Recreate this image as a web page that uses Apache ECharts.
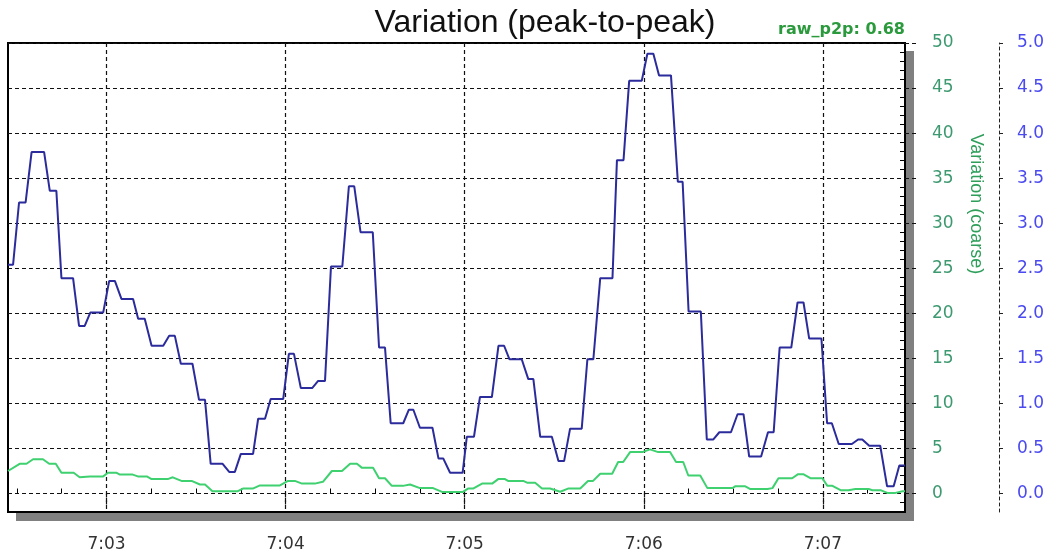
<!DOCTYPE html>
<html>
<head>
<meta charset="utf-8">
<script src="https://cdn.jsdelivr.net/npm/echarts@6/dist/echarts.min.js"></script>
<style>
  html, body { margin: 0; padding: 0; background: #fff; }
  #chart { width: 1053px; height: 559px; }
</style>
</head>
<body>
<div id="chart"></div>
<script>
// x values are seconds after 7:00
const xMajorTicks = [180, 240, 300, 360, 420];
const xMinorTicks = [150, 165, 195, 210, 225, 255, 270, 285, 315, 330, 345, 375, 390, 405, 435];
const yTicks = [0, 5, 10, 15, 20, 25, 30, 35, 40, 45, 50];
const blueTicks = [0, 0.5, 1, 1.5, 2, 2.5, 3, 3.5, 4, 4.5, 5];

// peak-to-peak, read as plateaus: start time, end time, level
const blueStart = [147.0, 150.7, 154.9, 161.0, 164.9, 170.8, 174.6, 180.9, 185.0, 190.6, 195.1, 201.0, 204.9, 211.0, 214.9, 221.1,
  225.0, 230.8, 235.0, 241.1, 245.1, 250.9, 255.2, 261.2, 265.1, 271.3, 275.2, 281.3, 285.0, 291.2, 295.1, 300.7,
  305.1, 311.3, 315.0, 321.3, 325.3, 331.4, 335.3, 341.1, 345.4, 351.0, 355.1, 361.2, 365.1, 371.4, 375.0, 381.1,
  385.3, 391.4, 395.3, 401.6, 405.5, 411.5, 415.4, 421.4, 425.3, 431.8, 435.5, 441.5, 445.6];
const blueEnd = [148.7, 152.9, 159.1, 163.2, 168.8, 172.7, 178.9, 182.8, 188.9, 192.8, 199.0, 202.9, 208.8, 213.0, 218.9, 223.0,
  229.1, 233.1, 239.2, 242.8, 248.9, 253.2, 259.0, 263.0, 269.2, 273.3, 279.4, 282.8, 289.2, 292.8, 299.3, 303.1,
  309.1, 313.2, 319.1, 323.0, 329.2, 333.3, 339.2, 343.1, 349.5, 353.2, 359.3, 363.2, 369.1, 373.0, 379.1, 383.3,
  389.2, 393.4, 399.3, 403.5, 409.4, 413.5, 419.5, 423.0, 429.7, 433.2, 439.2, 443.7, 447.5];
const blueLevel = [25.4, 32.3, 37.9, 33.6, 23.9, 18.6, 20.1, 23.6, 21.6, 19.4, 16.4, 17.5, 14.4, 10.4, 3.3, 2.4,
  4.4, 8.3, 10.5, 15.5, 11.7, 12.5, 25.2, 34.1, 29.0, 16.2, 7.8, 9.3, 7.3, 3.9, 2.3, 6.3,
  10.7, 16.4, 14.9, 12.7, 6.3, 3.6, 7.2, 14.9, 23.9, 37.0, 45.8, 48.8, 46.4, 34.6, 20.2, 6.0,
  6.8, 8.8, 4.1, 6.8, 16.2, 21.2, 17.2, 7.8, 5.5, 6.0, 5.3, 0.8, 3.1];

// coarse variation
const greenStart = [147.0, 150.9, 155.4, 160.8, 164.9, 171.0, 174.4, 180.5, 184.5, 190.5, 195.1, 202.2, 205.1, 211.3, 215.5, 225.7,
  231.4, 240.8, 245.5, 252.5, 255.5, 261.6, 265.6, 271.3, 275.6, 281.7, 285.0, 292.4, 301.1, 305.8, 311.2, 314.5,
  320.9, 325.9, 332.0, 334.6, 341.3, 345.4, 351.4, 355.4, 362.1, 364.8, 370.8, 374.9, 381.3, 390.6, 395.7, 403.1,
  405.1, 411.7, 415.8, 421.5, 425.9, 430.9, 436.6, 441.6, 446.7];
const greenEnd = [147.0, 153.2, 158.7, 163.0, 169.0, 171.0, 178.9, 183.4, 188.8, 193.5, 200.5, 202.2, 208.5, 213.0, 224.0, 229.0,
  238.1, 243.1, 249.8, 252.5, 258.9, 263.9, 269.3, 273.3, 279.3, 281.7, 289.4, 299.4, 302.8, 309.2, 313.5, 319.6,
  323.6, 328.6, 332.0, 338.7, 343.0, 349.4, 353.1, 359.5, 362.1, 368.8, 373.2, 378.9, 389.7, 394.0, 401.4, 403.1,
  409.7, 413.4, 419.8, 423.2, 428.6, 435.3, 439.3, 444.3, 447.5];
const greenLevel = [2.5, 3.3, 3.8, 3.3, 2.3, 1.8, 1.9, 2.3, 2.1, 1.9, 1.6, 1.8, 1.4, 1.0, 0.26, 0.55,
  0.9, 1.4, 1.1, 1.3, 2.5, 3.3, 2.85, 1.7, 0.85, 1.0, 0.6, 0.18, 0.55, 1.1, 1.6, 1.4,
  1.2, 0.55, 0.2, 0.55, 1.4, 2.2, 3.5, 4.6, 4.9, 4.6, 3.5, 2.0, 0.6, 0.8, 0.5, 0.6,
  1.7, 2.15, 1.7, 0.85, 0.37, 0.5, 0.37, 0.07, 0.25];

function plateaus(start, end, level) {
  const pts = [];
  for (let i = 0; i < level.length; i++) {
    pts.push([start[i], level[i]]);
    if (end[i] !== start[i]) pts.push([end[i], level[i]]);
  }
  return pts;
}

// small ticks on the frame (every unit on y)
const yMinor = [];
for (let v = -2; v < 50; v++) if (v % 5 !== 0) yMinor.push(v);

const dash = { color: '#111', width: 1.2, type: [4, 3] };
const font = 'DejaVu Sans';

const chart = echarts.init(document.getElementById('chart'));
chart.setOption({
  animation: false,
  grid: {
    left: 8, top: 43, width: 897, height: 469,
    show: true,
    backgroundColor: '#fff',
    borderColor: '#000',
    borderWidth: 2
  },
  graphic: [
    // drop shadow of the plot frame
    { type: 'rect', shape: { x: 906, y: 51, width: 8, height: 470 }, style: { fill: '#808080' } },
    { type: 'rect', shape: { x: 16, y: 513, width: 898, height: 8 }, style: { fill: '#808080' } },
    {
      type: 'text', x: 545, y: 23,
      style: { text: 'Variation (peak-to-peak)', fill: '#111', font: '32px "Liberation Sans"', textAlign: 'center', textVerticalAlign: 'middle' }
    },
    {
      type: 'text', x: 905, y: 30,
      style: { text: 'raw_p2p: 0.68', fill: '#2a9a3c', font: 'bold 16px "DejaVu Sans"', textAlign: 'right', textVerticalAlign: 'middle' }
    },
    {
      type: 'text', x: 976, y: 204, rotation: -Math.PI / 2,
      style: { text: 'Variation (coarse)', fill: '#2e9e5a', font: '18px "Liberation Sans"', textAlign: 'center', textVerticalAlign: 'middle' }
    }
  ],
  xAxis: [
    {
      type: 'value', min: 147, max: 447.5, position: 'bottom',
      axisLine: { show: false },
      axisTick: { customValues: xMajorTicks, length: 11, lineStyle: dash },
      axisLabel: {
        customValues: xMajorTicks, margin: 24, color: '#333', fontSize: 17, fontFamily: font,
        formatter: v => '7:' + String(Math.round(v / 60)).padStart(2, '0')
      },
      splitLine: { show: true, lineStyle: dash }
    },
    {
      type: 'value', min: 147, max: 447.5, position: 'bottom', offset: -4,
      axisLine: { show: false },
      axisTick: { inside: true, length: 5, customValues: xMinorTicks, lineStyle: { color: '#000', width: 1 } },
      axisLabel: { show: false },
      splitLine: { show: false }
    }
  ],
  yAxis: [
    {
      type: 'value', position: 'right', min: -2.05, max: 50,
      axisLine: { show: false },
      axisTick: { customValues: yTicks, length: 14, lineStyle: dash },
      axisLabel: { customValues: yTicks, margin: 27, color: '#3d9970', fontSize: 17, fontFamily: font },
      splitLine: { show: true, lineStyle: dash }
    },
    {
      type: 'value', position: 'right', offset: 94, min: -0.205, max: 5,
      axisLine: { show: true, lineStyle: { color: '#222', width: 1, type: [3, 3] } },
      axisTick: { customValues: blueTicks, length: 4, lineStyle: { color: '#222', width: 1 } },
      axisLabel: {
        customValues: blueTicks, margin: 18, color: '#4a4af0', fontSize: 17, fontFamily: font,
        formatter: v => v.toFixed(1)
      },
      splitLine: { show: false }
    },
    {
      type: 'value', position: 'right', min: -2.05, max: 50,
      axisLine: { show: false },
      axisTick: { inside: true, length: 5, customValues: yMinor, lineStyle: { color: '#000', width: 1 } },
      axisLabel: { show: false },
      splitLine: { show: false }
    }
  ],
  series: [
    {
      name: 'coarse', type: 'line', showSymbol: false, z: 3,
      lineStyle: { color: '#3fd070', width: 2 },
      data: plateaus(greenStart, greenEnd, greenLevel)
    },
    {
      name: 'p2p', type: 'line', showSymbol: false, z: 4,
      lineStyle: { color: '#2b2b9c', width: 2 },
      data: plateaus(blueStart, blueEnd, blueLevel)
    }
  ]
});
</script>
</body>
</html>
